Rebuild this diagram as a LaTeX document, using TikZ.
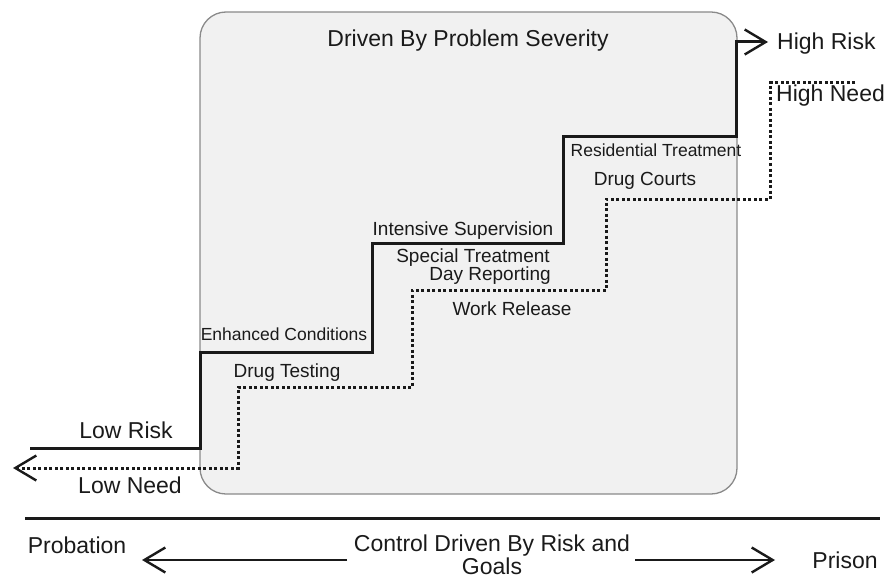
\documentclass[tikz,border=0pt]{standalone}
\usepackage{fontspec}
\setmainfont{Liberation Sans}
\usetikzlibrary{arrows.meta}
\definecolor{boxfill}{HTML}{F1F1F1}
\definecolor{boxline}{HTML}{8A8A8A}
\definecolor{ink}{HTML}{1A1A1A}
\tikzset{
  big/.style={inner sep=0pt, anchor=base, text=ink, font=\fontsize{23}{28}\selectfont},
  mid/.style={inner sep=0pt, anchor=base, text=ink, font=\fontsize{19}{23}\selectfont},
  small/.style={inner sep=0pt, anchor=base, text=ink, font=\fontsize{17.5}{21}\selectfont},
  riskline/.style={draw=ink, line width=3pt, line join=miter},
  needline/.style={draw=ink, line width=3pt, dash pattern=on 3pt off 2.5pt},
  barb/.style={-{Straight Barb[length=21pt,width=25pt,line width=2.4pt]}},
}
\begin{document}
\begin{tikzpicture}[x=1pt,y=-1pt]
\useasboundingbox (0,0) rectangle (890,580);
% background box
\draw[fill=boxfill, draw=boxline, line width=1.3pt, rounded corners=26pt] (200,12) rectangle (737,494);
\node[big] (title) at (468,47) {Driven By Problem Severity};

% risk (solid) step line
\coordinate (r0) at (30,448);
\coordinate (r1) at (200,448);
\coordinate (r2) at (200,352);
\coordinate (r3) at (372,352);
\coordinate (r4) at (372,243);
\coordinate (r5) at (563,243);
\coordinate (r6) at (563,137);
\coordinate (r7) at (736,137);
\coordinate (r8) at (736,42);
\coordinate (r9) at (768,42);
\draw[riskline, barb] (r0) -- (r1) -- (r2) -- (r3) -- (r4) -- (r5) -- (r6) -- (r7) -- (r8) -- (r9);

% need (dotted) step line
\coordinate (n0) at (855,83);
\coordinate (n1) at (770,83);
\coordinate (n2) at (770,199);
\coordinate (n3) at (606,199);
\coordinate (n4) at (606,290);
\coordinate (n5) at (412,290);
\coordinate (n6) at (412,387);
\coordinate (n7) at (238,387);
\coordinate (n8) at (238,468);
\coordinate (n9) at (13,468);
\draw[needline, barb] (n0) -- (n1) -- (n2) -- (n3) -- (n4) -- (n5) -- (n6) -- (n7) -- (n8) -- (n9);

% end labels
\node[big] (lowrisk) at (126,438) {Low Risk};
\node[big] (lowneed) at (130,493) {Low Need};
\node[big, anchor=base west] (highrisk) at (777,50) {High Risk};
\node[big, anchor=base west] (highneed) at (776,102) {High Need};

% step labels
\node[small] (enh) at (284,340) {Enhanced Conditions};
\node[mid] (drugtest) at (287,377) {Drug Testing};
\node[mid] (intens) at (463,235) {Intensive Supervision};
\node[mid] (special) at (473,262) {Special Treatment};
\node[mid, anchor=base east] (dayrep) at (551,280) {Day Reporting};
\node[mid] (work) at (512,315) {Work Release};
\node[small] (resid) at (656,157) {Residential Treatment};
\node[mid] (courts) at (645,185) {Drug Courts};

% bottom axis
\coordinate (axl) at (25,518);
\coordinate (axr) at (880,518);
\draw[draw=ink, line width=3pt] (axl) -- (axr);
\node[big] (probation) at (77,553) {Probation};
\node[big] (prison) at (845,568) {Prison};
\node[big] (control) at (492,551) {Control Driven By Risk and};
\node[big] (goals) at (492,574) {Goals};
\coordinate (al0) at (347,560);
\coordinate (al1) at (142,560);
\coordinate (ar0) at (635,560);
\coordinate (ar1) at (775,560);
\draw[draw=ink, line width=2.6pt, barb] (al0) -- (al1);
\draw[draw=ink, line width=2.6pt, barb] (ar0) -- (ar1);
\end{tikzpicture}
\end{document}
